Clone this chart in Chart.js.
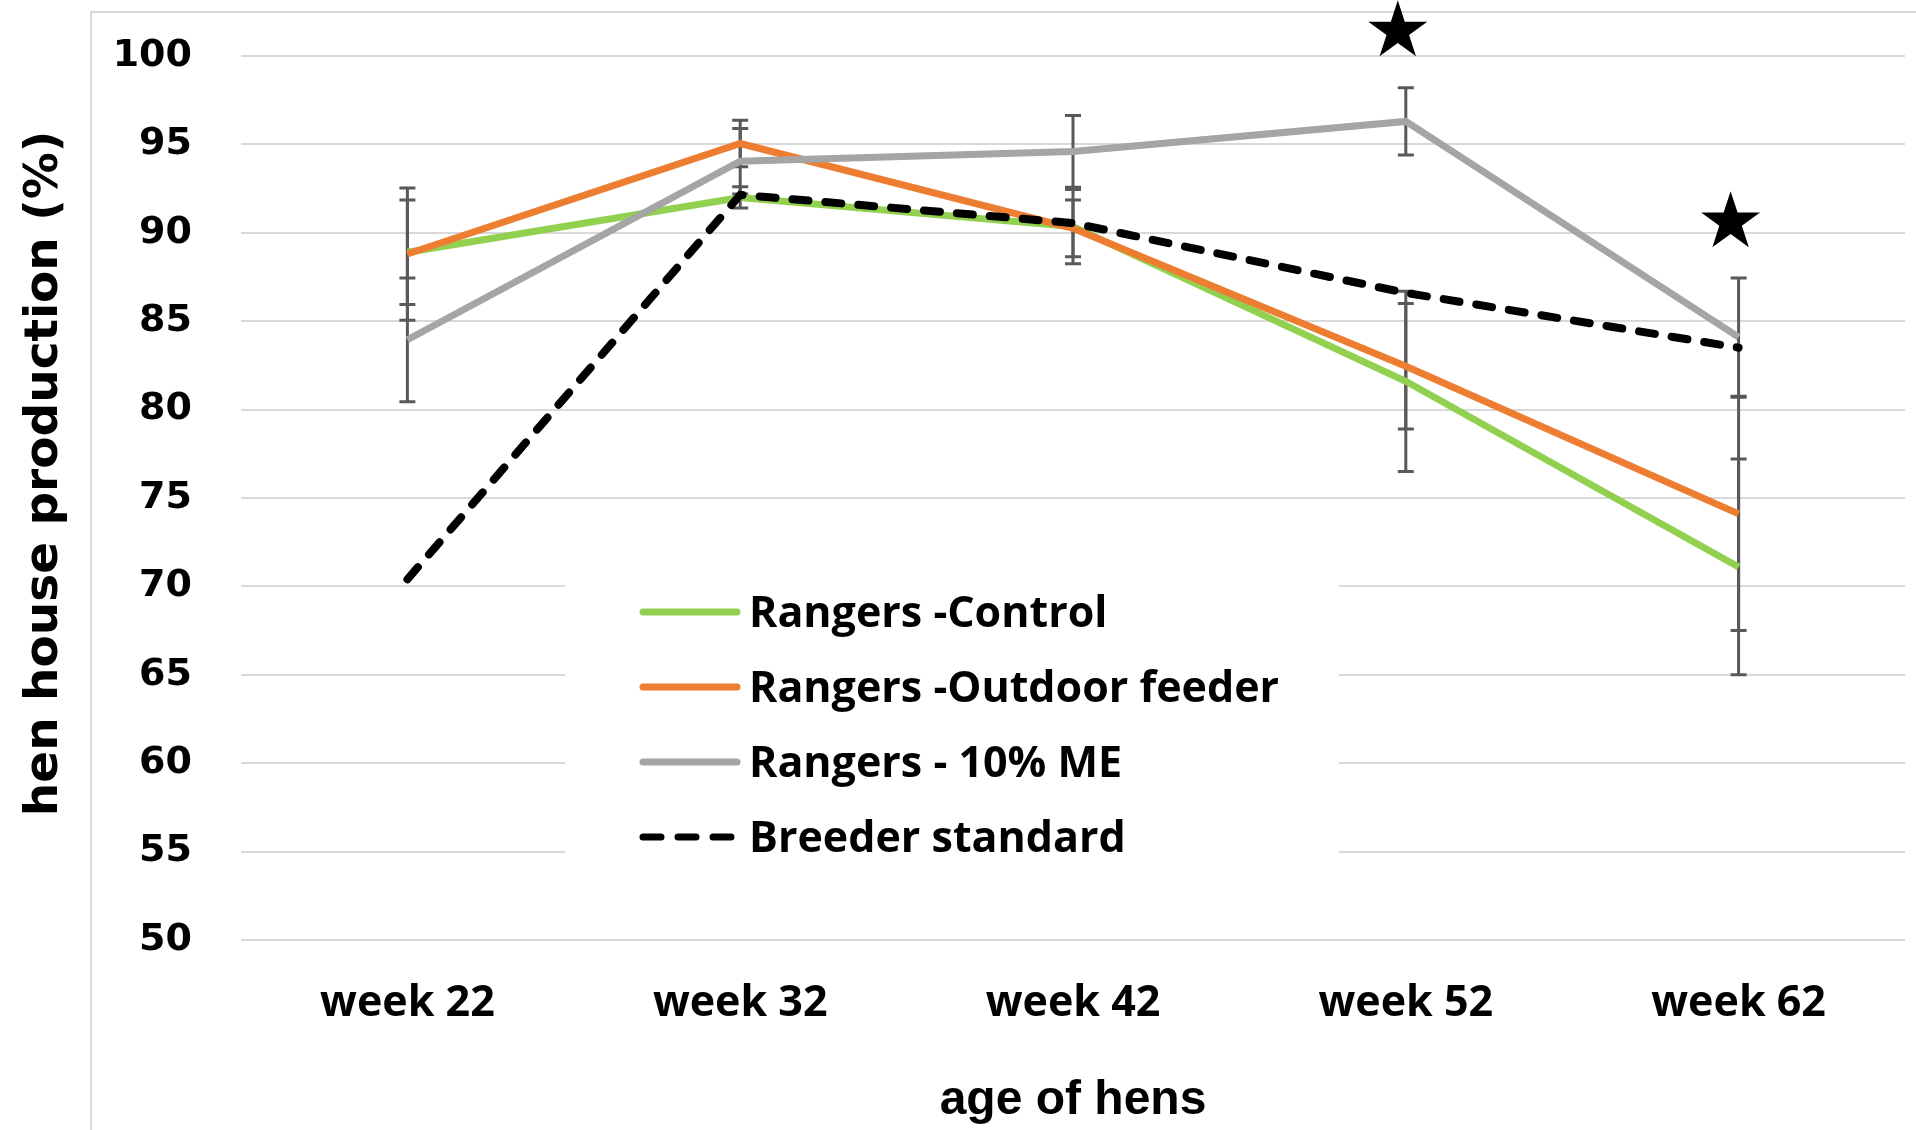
<!DOCTYPE html>
<html><head><meta charset="utf-8">
<script src="https://cdn.jsdelivr.net/npm/chart.js@4.4.1/dist/chart.umd.min.js"></script>
<style>html,body{margin:0;padding:0;background:#fff;overflow:hidden;} canvas{display:block;}</style>
</head><body>
<canvas id="c" width="1916" height="1130"></canvas>
<script>
// ---- data ----
const categories = ['week 22', 'week 32', 'week 42', 'week 52', 'week 62'];
const seriesLabels = ['Rangers -Control', 'Rangers -Outdoor feeder', 'Rangers - 10% ME', 'Breeder standard'];
const controlValues = [88.9, 92.0, 90.35, 81.6, 71.1];
const controlErrors = [2.95, 0.6, 2.1, 5.1, 6.1];
const outdoorValues = [88.8, 95.05, 90.25, 82.45, 74.1];
const outdoorErrors = [3.74, 1.32, 1.6, 3.55, 6.6];
const meValues = [83.95, 94.05, 94.6, 96.3, 84.1];
const meErrors = [3.5, 1.85, 2.03, 1.9, 3.34];
const breederValues = [70.4, 92.15, 90.55, 86.6, 83.5];
const starValues = [null, null, null, 101.4, 90.6];
const yMin = 50, yMax = 100, yStep = 5;
const xTitle = 'age of hens';
const yTitle = 'hen house production (%)';

// ---- plugins ----
const framePlugin = {
  id: 'frame',
  beforeDraw(chart, args, o) {
    const ctx = chart.ctx;
    ctx.save();
    ctx.fillStyle = '#ffffff';
    ctx.fillRect(0, 0, chart.width, chart.height);
    ctx.strokeStyle = o.color;
    ctx.lineWidth = o.width;
    ctx.strokeRect(o.left, o.top, chart.width + 20, chart.height + 20);
    ctx.restore();
  }
};

const errorBarPlugin = {
  id: 'errorBars',
  beforeDatasetsDraw(chart, args, o) {
    const {ctx, scales: {x, y}} = chart;
    ctx.save();
    ctx.strokeStyle = o.color;
    ctx.lineWidth = o.width;
    chart.data.datasets.forEach((ds, di) => {
      if (!ds.errors || !chart.isDatasetVisible(di)) return;
      ds.data.forEach((v, i) => {
        const e = ds.errors[i];
        if (v == null || e == null) return;
        const px = x.getPixelForValue(i);
        const top = y.getPixelForValue(v + e);
        const bot = y.getPixelForValue(v - e);
        ctx.beginPath();
        ctx.moveTo(px, top); ctx.lineTo(px, bot);
        ctx.moveTo(px - o.cap, top); ctx.lineTo(px + o.cap, top);
        ctx.moveTo(px - o.cap, bot); ctx.lineTo(px + o.cap, bot);
        ctx.stroke();
      });
    });
    ctx.restore();
  }
};

const boxLegendPlugin = {
  id: 'boxLegend',
  afterDatasetsDraw(chart, args, o) {
    const ctx = chart.ctx;
    ctx.save();
    ctx.fillStyle = '#ffffff';
    ctx.fillRect(o.boxLeft, o.boxTop, o.boxWidth, o.boxHeight);
    ctx.font = o.font;
    ctx.textBaseline = 'alphabetic';
    ctx.textAlign = 'left';
    chart.data.datasets.forEach((ds, i) => {
      const cy = o.firstRow + i * o.rowGap;
      ctx.beginPath();
      ctx.strokeStyle = ds.borderColor;
      ctx.lineWidth = o.lineWidth;
      ctx.lineCap = 'round';
      ctx.setLineDash(ds.borderDash && ds.borderDash.length ? o.dash : []);
      ctx.moveTo(o.lineStart, cy);
      ctx.lineTo(o.lineEnd, cy);
      ctx.stroke();
      ctx.setLineDash([]);
      ctx.fillStyle = '#000000';
      ctx.fillText(ds.label, o.textX, cy + o.baselineOffset);
    });
    ctx.restore();
  }
};

const starPlugin = {
  id: 'stars',
  afterDraw(chart, args, o) {
    const {ctx, scales: {x, y}} = chart;
    ctx.save();
    ctx.fillStyle = o.color;
    starValues.forEach((v, i) => {
      if (v == null) return;
      const cx = x.getPixelForValue(i) + o.dx;
      const cy = y.getPixelForValue(v);
      const R = o.radius, r = R * 0.382;
      ctx.beginPath();
      for (let k = 0; k < 10; k++) {
        const rad = k % 2 === 0 ? R : r;
        const ang = -Math.PI / 2 + k * Math.PI / 5;
        const px = cx + rad * Math.cos(ang), py = cy + rad * Math.sin(ang);
        if (k === 0) ctx.moveTo(px, py); else ctx.lineTo(px, py);
      }
      ctx.closePath();
      ctx.fill();
    });
    ctx.restore();
  }
};

// ---- chart ----
const chart = new Chart(document.getElementById('c'), {
  type: 'line',
  data: {
    labels: categories,
    datasets: [
      { label: seriesLabels[0], data: controlValues, errors: controlErrors, borderColor: '#92d050', borderWidth: 7, order: 4 },
      { label: seriesLabels[1], data: outdoorValues, errors: outdoorErrors, borderColor: '#ed7d31', borderWidth: 7, order: 3 },
      { label: seriesLabels[2], data: meValues, errors: meErrors, borderColor: '#a5a5a5', borderWidth: 7, order: 2 },
      { label: seriesLabels[3], data: breederValues, borderColor: '#000000', borderWidth: 8, borderDash: [16, 17], borderCapStyle: 'round', order: 1 }
    ]
  },
  options: {
    responsive: false,
    animation: false,
    devicePixelRatio: 1,
    elements: { point: { radius: 0, hoverRadius: 0 }, line: { tension: 0, fill: false } },
    layout: { padding: { top: 56, right: 11, bottom: 0, left: 0 } },
    scales: {
      x: {
        type: 'category',
        offset: true,
        grid: { display: false },
        border: { display: false },
        ticks: { color: '#000', padding: 30, font: { family: "'Open Sans', sans-serif", weight: 'bold', size: 43 } },
        title: { display: true, text: xTitle, color: '#000', padding: { top: 0, bottom: 0 },
                 font: { family: "'Liberation Sans', Arial, sans-serif", weight: 'bold', size: 48, lineHeight: 1.2 } },
        afterFit(scale) { scale.height = 190; }
      },
      y: {
        min: yMin, max: yMax,
        grid: { color: '#d9d9d9', lineWidth: 2, drawTicks: true, tickLength: 49, tickColor: 'rgba(0,0,0,0)' },
        border: { display: false },
        ticks: { stepSize: yStep, color: '#000', padding: 0, font: { family: "'DejaVu Sans', sans-serif", weight: 'bold', size: 38 } },
        title: { display: true, text: '   ' + yTitle, color: '#000', padding: { top: 17, bottom: 0 },
                 font: { family: "'DejaVu Sans', sans-serif", weight: 'bold', size: 47, lineHeight: 1.2 } },
        afterFit(scale) { scale.width = 241; }
      }
    },
    plugins: {
      legend: { display: false },
      tooltip: { enabled: false },
      frame: { color: '#d9d9d9', width: 2, left: 91, top: 12 },
      errorBars: { color: '#595959', width: 3, cap: 8 },
      boxLegend: { boxLeft: 565, boxTop: 540, boxWidth: 774, boxHeight: 355,
                   firstRow: 612, rowGap: 75, lineStart: 643, lineEnd: 737, lineWidth: 7, dash: [18, 17],
                   textX: 749, baselineOffset: 15, font: "bold 43px 'Open Sans', sans-serif" },
      stars: { color: '#000000', radius: 31, dx: -8 }
    }
  },
  plugins: [framePlugin, errorBarPlugin, boxLegendPlugin, starPlugin]
});
</script>
</body></html>
